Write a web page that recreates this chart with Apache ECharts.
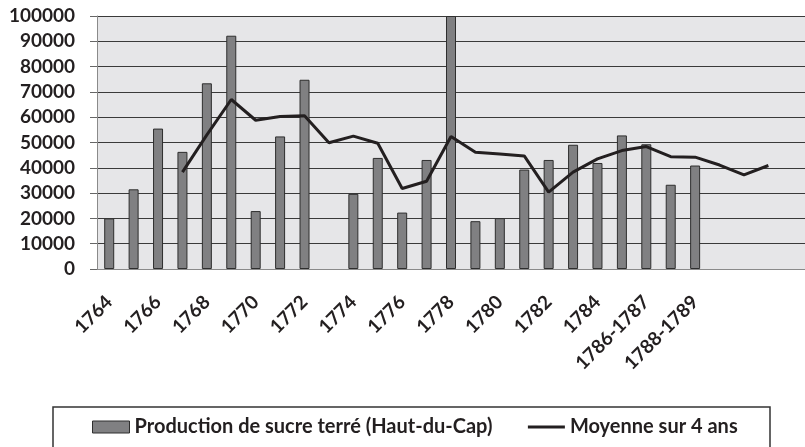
<!DOCTYPE html>
<html>
<head>
<meta charset="utf-8">
<script src="https://cdn.jsdelivr.net/npm/echarts@6/dist/echarts.min.js"></script>
<style>
  html, body { margin: 0; padding: 0; background: #fff; }
  #chart { width: 805px; height: 447px; }
</style>
</head>
<body>
<div id="chart"></div>
<script>
// years on the category axis (only every other label is shown)
const years = [
  '1764', '1765', '1766', '1767', '1768', '1769', '1770', '1771', '1772', '1773',
  '1774', '1775', '1776', '1777', '1778', '1779', '1780', '1781', '1782', '1783',
  '1784', '1785', '1786-1787', '1787-1788', '1788-1789', '', '', '', ''
];

// Production de sucre terré (Haut-du-Cap)
const production = [
  20000, 31500, 55500, 46300, 73400, 92200, 22900, 52400, 74800, null,
  29700, 43900, 22300, 43100, 100000, 18900, 20100, 39300, 43100, 49100,
  41900, 52800, 49300, 33300, 40900, null, null, null, null
];

// Moyenne sur 4 ans
const average = [
  null, null, null, 38300, 53000, 67000, 58800, 60300, 60600, 49900,
  52500, 49700, 31800, 34700, 52400, 46100, 45500, 44700, 30400, 38300,
  43500, 46800, 48400, 44400, 44200, 41100, 37200, 40900, null
];

const yTicks = { min: 0, max: 100000, step: 10000 };

const chart = echarts.init(document.getElementById('chart'), null, { renderer: 'canvas' });
const font = 'Lato, "Open Sans", sans-serif';

chart.setOption({
  animation: false,
  grid: {
    left: 97, right: -3, top: 16, bottom: 178,
    show: true, backgroundColor: '#e6e6e8', borderWidth: 0
  },
  legend: {
    left: 92, top: 417, padding: 0,
    itemWidth: 37, itemHeight: 12, itemGap: 34,
    textStyle: { fontFamily: font, fontWeight: 'bold', fontSize: 20, color: '#231f20' },
    data: [
      {
        name: 'Production de sucre terré (Haut-du-Cap)', icon: 'rect',
        itemStyle: { color: '#808082', borderColor: '#2e2e2e', borderWidth: 1 }
      },
      {
        name: 'Moyenne sur 4 ans',
        itemStyle: { color: 'transparent', borderWidth: 0, opacity: 0 },
        lineStyle: { color: '#231f20', width: 3 }
      }
    ]
  },
  graphic: [{
    type: 'rect',
    shape: { x: 53, y: 407, width: 717, height: 60 },
    style: { fill: 'none', stroke: '#333', lineWidth: 1.5 },
    silent: true
  }],
  xAxis: {
    type: 'category',
    data: years,
    boundaryGap: true,
    axisLine: { lineStyle: { color: '#8a8a8a', width: 1 } },
    axisTick: { alignWithLabel: false, interval: 0, length: 6, lineStyle: { color: '#666' } },
    axisLabel: {
      interval: 1, rotate: 45, margin: 30,
      fontFamily: font, fontWeight: 'bold', fontSize: 19, color: '#231f20'
    }
  },
  yAxis: {
    type: 'value',
    min: yTicks.min, max: yTicks.max, interval: yTicks.step,
    axisLine: { show: true, lineStyle: { color: '#8a8a8a' } },
    axisTick: { show: true, length: 7, lineStyle: { color: '#666' } },
    splitLine: { lineStyle: { color: '#3a3a3a', width: 1 } },
    axisLabel: {
      margin: 22,
      formatter: v => String(v),
      fontFamily: font, fontWeight: 'bold', fontSize: 19, color: '#231f20'
    }
  },
  series: [
    {
      name: 'Production de sucre terré (Haut-du-Cap)',
      type: 'bar',
      data: production,
      barWidth: 10,
      itemStyle: { color: '#808082', borderColor: '#2e2e2e', borderWidth: 1 }
    },
    {
      name: 'Moyenne sur 4 ans',
      type: 'line',
      data: average,
      symbol: 'none',
      connectNulls: false,
      lineStyle: { color: '#231f20', width: 3 },
      itemStyle: { color: '#231f20' }
    }
  ]
});
</script>
</body>
</html>
